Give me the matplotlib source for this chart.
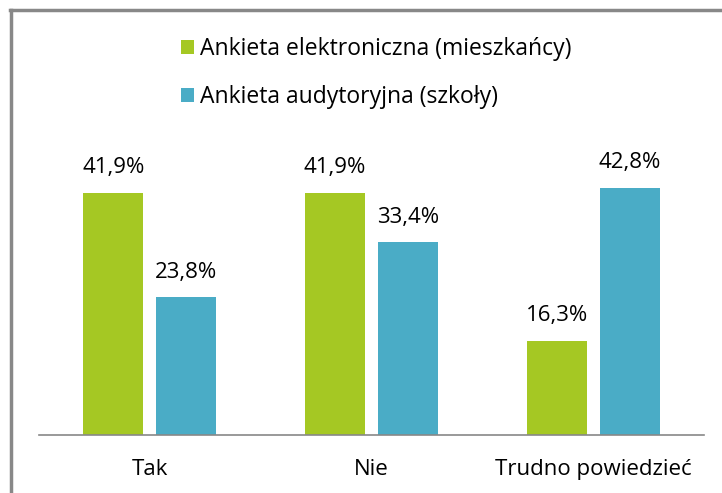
import matplotlib
matplotlib.use('Agg')
import matplotlib.pyplot as plt
from matplotlib.lines import Line2D
import numpy as np

plt.rcParams['font.family'] = ['Open Sans', 'DejaVu Sans']

kategorie = ['Tak', 'Nie', 'Trudno powiedzieć']
elektroniczna = [41.9, 41.9, 16.3]
audytoryjna = [23.8, 33.4, 42.8]
etykiety = ['Ankieta elektroniczna (mieszkańcy)', 'Ankieta audytoryjna (szkoły)']

ZIELONY = '#A5C823'
NIEBIESKI = '#4AACC6'
SZARY = '#888888'

W, H = 722, 493
fig = plt.figure(figsize=(W / 100, H / 100), dpi=100)

# ramka wykresu (widoczna tylko z lewej i u góry)
fig.add_artist(Line2D([10.5 / W, 10.5 / W], [0, 1 - 10 / H], color=SZARY, lw=2.5))
fig.add_artist(Line2D([10 / W, 1], [1 - 10 / H, 1 - 10 / H], color=SZARY, lw=2.5))

ax = fig.add_axes([39 / W, 58 / H, (704 - 39) / W, 289 / H])
x = np.arange(len(kategorie))
szer = 0.27
b1 = ax.bar(x - 0.165, elektroniczna, szer, color=ZIELONY, label=etykiety[0])
b2 = ax.bar(x + 0.165, audytoryjna, szer, color=NIEBIESKI, label=etykiety[1])

for bars, vals in ((b1, elektroniczna), (b2, audytoryjna)):
    for b, v in zip(bars, vals):
        ax.annotate(f'{v:.1f}%'.replace('.', ','),
                    (b.get_x() + b.get_width() / 2, b.get_height()),
                    xytext=(0, 14), textcoords='offset points',
                    ha='center', va='baseline', fontsize=16, color='black')

ax.set_xlim(-0.5, 2.5)
ax.set_ylim(0, 50)
ax.set_xticks(x)
ax.set_xticklabels(kategorie, fontsize=16)
ax.tick_params(axis='x', length=0, pad=17)
ax.set_yticks([])
for s in ('left', 'right', 'top'):
    ax.spines[s].set_visible(False)
ax.spines['bottom'].set_color(SZARY)
ax.spines['bottom'].set_linewidth(1.2)

fig.legend(handles=[b1, b2], labels=etykiety, loc='center left',
           bbox_to_anchor=(181 / W, 1 - 73 / H), frameon=False, fontsize=16.5,
           handlelength=0.55, handleheight=0.55, handletextpad=0.3,
           labelspacing=1.05, borderpad=0, borderaxespad=0)

fig.savefig('out.png', dpi=100)
